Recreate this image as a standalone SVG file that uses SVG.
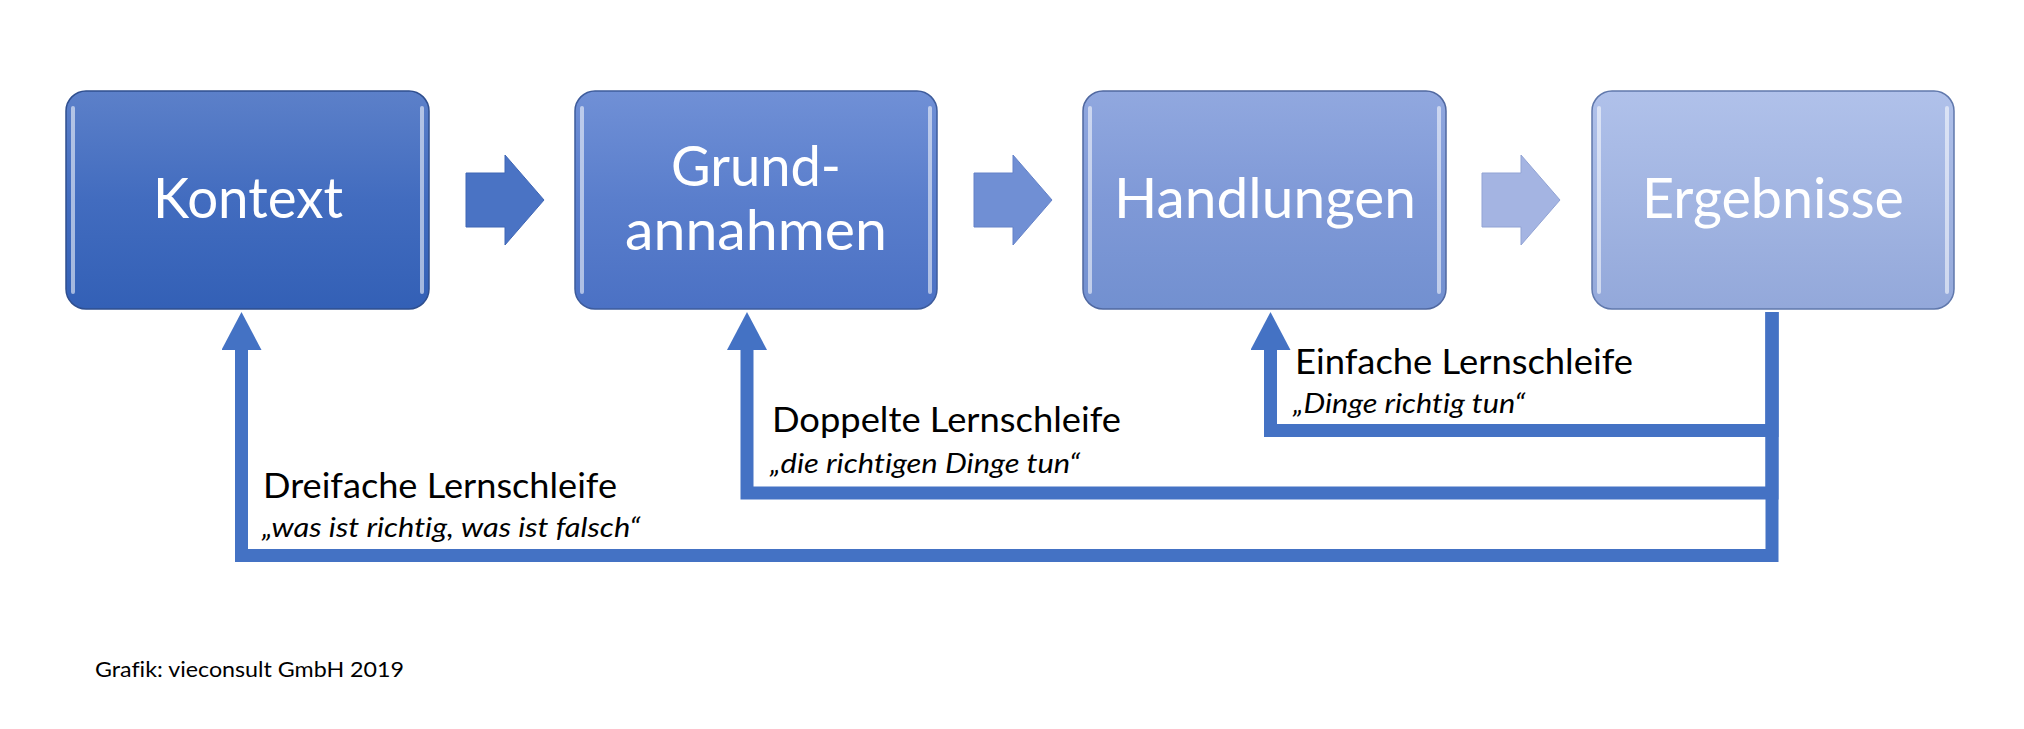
<svg xmlns="http://www.w3.org/2000/svg" width="2024" height="729" viewBox="0 0 2024 729">
<defs>
<linearGradient id="g1" x1="0" y1="0" x2="0" y2="1"><stop offset="0" stop-color="#5C80C9"/><stop offset="0.5" stop-color="#426CBF"/><stop offset="1" stop-color="#3360B6"/></linearGradient>
<linearGradient id="g2" x1="0" y1="0" x2="0" y2="1"><stop offset="0" stop-color="#7090D6"/><stop offset="0.5" stop-color="#5A7ECC"/><stop offset="1" stop-color="#4B71C4"/></linearGradient>
<linearGradient id="g3" x1="0" y1="0" x2="0" y2="1"><stop offset="0" stop-color="#91A8DF"/><stop offset="0.5" stop-color="#7F99D7"/><stop offset="1" stop-color="#7290D0"/></linearGradient>
<linearGradient id="g4" x1="0" y1="0" x2="0" y2="1"><stop offset="0" stop-color="#B0C1EA"/><stop offset="0.5" stop-color="#A2B5E2"/><stop offset="1" stop-color="#93A8DA"/></linearGradient>
<marker id="head" markerUnits="userSpaceOnUse" markerWidth="40" markerHeight="40" viewBox="0 0 37 39" refX="0" refY="19.5" orient="auto"><path d="M0,0 L37,19.5 L0,39 z" fill="#4472C4"/></marker>
</defs>
<style>
text{font-variant-ligatures:none;font-feature-settings:"liga" 0,"dlig" 0}
.box{stroke-width:1.5}
.hl{fill:#ffffff;opacity:0.55}
.bt{font-family:Lato,"Open Sans",sans-serif;font-size:56px;fill:#ffffff;text-anchor:middle}
.lbl{font-family:Lato,"Open Sans",sans-serif;font-size:35px;fill:#000000}
.sub{font-family:Lato,"Open Sans",sans-serif;font-size:27px;font-style:italic;fill:#000000}
.foot{font-family:Lato,"Open Sans",sans-serif;font-size:21px;fill:#000000}
.loop{fill:none;stroke:#4472C4;stroke-width:13;stroke-linejoin:miter;marker-end:url(#head)}
</style>
<rect width="2024" height="729" fill="#ffffff"/>

<g id="node-kontext">
<rect class="box" x="66" y="91" width="363" height="218" rx="20" fill="url(#g1)" stroke="#2F4F8F"/>
<rect class="hl" x="71" y="106" width="4" height="188" rx="2"/>
<rect class="hl" x="420" y="106" width="4" height="188" rx="2" opacity="0.4"/>
<text class="bt" x="248" y="218" textLength="190" lengthAdjust="spacingAndGlyphs">Kontext</text>
</g>

<g id="node-grundannahmen">
<rect class="box" x="575" y="91" width="362" height="218" rx="20" fill="url(#g2)" stroke="#3E5C9C"/>
<rect class="hl" x="580" y="106" width="4" height="188" rx="2"/>
<rect class="hl" x="928" y="106" width="4" height="188" rx="2" opacity="0.4"/>
<text class="bt" x="756" y="186" textLength="170" lengthAdjust="spacingAndGlyphs">Grund-</text>
<text class="bt" x="756" y="250" textLength="262" lengthAdjust="spacingAndGlyphs">annahmen</text>
</g>

<g id="node-handlungen">
<rect class="box" x="1083" y="91" width="363" height="218" rx="20" fill="url(#g3)" stroke="#5068A0"/>
<rect class="hl" x="1088" y="106" width="4" height="188" rx="2"/>
<rect class="hl" x="1437" y="106" width="4" height="188" rx="2" opacity="0.4"/>
<text class="bt" x="1265" y="218" textLength="302" lengthAdjust="spacingAndGlyphs">Handlungen</text>
</g>

<g id="node-ergebnisse">
<rect class="box" x="1592" y="91" width="362" height="218" rx="20" fill="url(#g4)" stroke="#6078AC"/>
<rect class="hl" x="1597" y="106" width="4" height="188" rx="2"/>
<rect class="hl" x="1945" y="106" width="4" height="188" rx="2" opacity="0.4"/>
<text class="bt" x="1773" y="218" textLength="262" lengthAdjust="spacingAndGlyphs">Ergebnisse</text>
</g>

<g id="connectors">
<polygon points="466,173 505,173 505,155 544,200 505,245 505,227 466,227" fill="#4A73C4" stroke="#3F66B5" stroke-width="1"/>
<polygon points="974,173 1013,173 1013,155 1052,200 1013,245 1013,227 974,227" fill="#708FD4" stroke="#6482C8" stroke-width="1"/>
<polygon points="1482,173 1521,173 1521,155 1560,200 1521,245 1521,227 1482,227" fill="#A4B4E2" stroke="#91A3D4" stroke-width="1"/>
<path class="loop" d="M1772,312 V555.5 H241.5 V350"/>
<path class="loop" d="M1772,312 V493 H747 V350"/>
<path class="loop" d="M1772,312 V430.5 H1270.5 V350"/>
</g>

<g id="labels">
<text class="lbl" x="263" y="498" textLength="354" lengthAdjust="spacingAndGlyphs">Dreifache Lernschleife</text>
<text class="sub" x="262" y="537" textLength="378" lengthAdjust="spacingAndGlyphs">„was ist richtig, was ist falsch“</text>
<text class="lbl" x="772" y="432" textLength="349" lengthAdjust="spacingAndGlyphs">Doppelte Lernschleife</text>
<text class="sub" x="770" y="473" textLength="310" lengthAdjust="spacingAndGlyphs">„die richtigen Dinge tun“</text>
<text class="lbl" x="1295" y="374" textLength="338" lengthAdjust="spacingAndGlyphs">Einfache Lernschleife</text>
<text class="sub" x="1293" y="413" textLength="232" lengthAdjust="spacingAndGlyphs">„Dinge richtig tun“</text>
<text class="foot" x="95" y="677" textLength="309" lengthAdjust="spacingAndGlyphs">Grafik: vieconsult GmbH 2019</text>
</g>
</svg>
